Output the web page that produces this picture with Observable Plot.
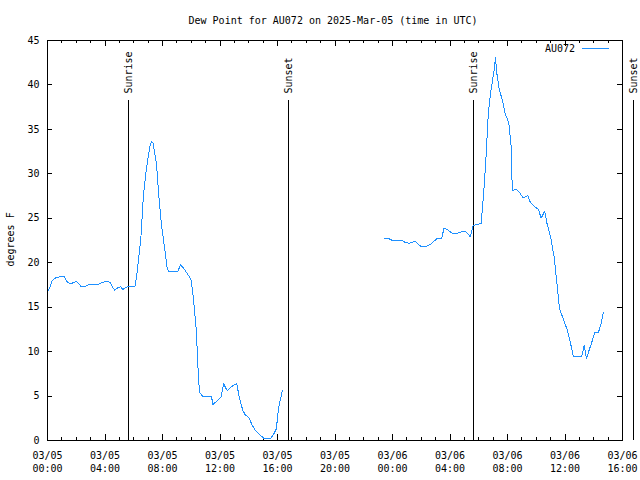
<!DOCTYPE html>
<html>
<head>
<meta charset="utf-8">
<script src="https://cdn.jsdelivr.net/npm/d3@7"></script>
<script src="https://cdn.jsdelivr.net/npm/@observablehq/plot@0.6"></script>
<style>
  html, body { margin: 0; padding: 0; background: #fff; }
  #wrap { position: relative; width: 640px; height: 480px; }
  #legend { position: absolute; top: 43px; right: 31px; font: 10px "DejaVu Sans Mono", monospace; display: flex; align-items: center; }
  #legend .swatch { display: inline-block; width: 27px; height: 0; border-top: 1px solid #1e90ff; margin-left: 7px; }
</style>
</head>
<body>
<div id="wrap"><div id="legend"><span id="legendText"></span><span class="swatch"></span></div></div>
<script>
// ---- data (UTC, 2025) ----
const times = [
  "03/05 00:05","03/05 00:20","03/05 00:35","03/05 01:05","03/05 01:10","03/05 01:20","03/05 01:35","03/05 02:00",
  "03/05 02:15","03/05 02:20","03/05 02:35","03/05 02:55","03/05 03:35","03/05 03:50","03/05 04:10","03/05 04:20",
  "03/05 04:40","03/05 04:55","03/05 05:05","03/05 05:15","03/05 05:30","03/05 05:40","03/05 06:05","03/05 06:15",
  "03/05 06:30","03/05 06:40","03/05 06:50","03/05 07:00","03/05 07:10","03/05 07:15","03/05 07:20","03/05 07:35",
  "03/05 07:45","03/05 07:55","03/05 08:10","03/05 08:20","03/05 08:25","03/05 09:05","03/05 09:15","03/05 09:30",
  "03/05 09:50","03/05 10:00","03/05 10:10","03/05 10:20","03/05 10:25","03/05 10:30","03/05 10:35","03/05 10:50",
  "03/05 11:25","03/05 11:30","03/05 11:50","03/05 12:05","03/05 12:15","03/05 12:30","03/05 12:50","03/05 13:10",
  "03/05 13:20","03/05 13:35","03/05 13:45","03/05 14:00","03/05 14:15","03/05 14:30","03/05 14:50","03/05 15:05",
  "03/05 15:30","03/05 15:45","03/05 15:55","03/05 16:05","03/05 16:20",
  "03/05 20:00",
  "03/05 23:25","03/05 23:45","03/06 00:00","03/06 00:40","03/06 00:55","03/06 01:10","03/06 01:35","03/06 02:00",
  "03/06 02:20","03/06 02:40","03/06 03:05","03/06 03:25","03/06 03:35","03/06 03:50","03/06 04:10","03/06 04:30",
  "03/06 04:50","03/06 05:05","03/06 05:25","03/06 05:35","03/06 05:50","03/06 06:10","03/06 06:20","03/06 06:30",
  "03/06 06:35","03/06 06:40","03/06 06:50","03/06 07:05","03/06 07:10","03/06 07:15","03/06 07:25","03/06 07:40",
  "03/06 07:50","03/06 08:05","03/06 08:15","03/06 08:20","03/06 08:35","03/06 08:50","03/06 09:05","03/06 09:15",
  "03/06 09:25","03/06 09:35","03/06 09:55","03/06 10:10","03/06 10:20","03/06 10:30","03/06 10:35","03/06 10:45",
  "03/06 11:00","03/06 11:15","03/06 11:25","03/06 11:35","03/06 11:40","03/06 11:50","03/06 12:10","03/06 12:25",
  "03/06 12:35","03/06 13:10","03/06 13:20","03/06 13:30","03/06 13:40","03/06 13:50","03/06 14:05","03/06 14:20",
  "03/06 14:30","03/06 14:40"
];
const dewpoint = [
  16.9, 18.0, 18.3, 18.5, 18.5, 17.9, 17.6, 17.9,
  17.5, 17.3, 17.3, 17.6, 17.6, 17.8, 17.9, 17.8,
  16.9, 17.2, 17.3, 17.0, 17.25, 17.3, 17.3, 19.1,
  22.9, 27.4, 30.0, 31.9, 33.4, 33.6, 33.5, 31.1,
  27.4, 24.4, 21.4, 19.3, 19.05, 19.05, 19.8, 19.3,
  18.5, 18.0, 15.75, 12.75, 10.1, 7.1, 5.4, 4.9,
  4.9, 4.05, 4.5, 4.9, 6.4, 5.6, 6.1, 6.4,
  4.9, 3.4, 2.9, 2.6, 1.7, 1.05, 0.56, 0.19,
  0.19, 0.75, 1.3, 3.75, 5.6,
  null,
  22.7, 22.7, 22.5, 22.5, 22.25, 22.2, 22.4, 21.8,
  21.8, 22.1, 22.7, 22.7, 23.9, 23.7, 23.3, 23.3,
  23.5, 23.55, 22.9, 24.1, 24.3, 24.4, 27.6, 31.7,
  34.3, 36.9, 39.2, 41.8, 43.1, 41.4, 39.6, 38.1,
  36.75, 35.8, 33.2, 28.1, 28.3, 27.9, 27.3, 27.4,
  27.6, 26.8, 26.25, 26.0, 25.0, 25.5, 25.8, 24.4,
  22.9, 20.6, 18.0, 15.4, 14.6, 13.9, 12.4, 10.7,
  9.45, 9.45, 10.7, 9.2, 10.1, 10.9, 12.2, 12.2,
  13.1, 14.4
];
const eventTimes = ["03/05 05:38", "03/05 16:46", "03/06 05:38", "03/06 16:47"];
const eventLabels = ["Sunrise", "Sunset", "Sunrise", "Sunset"];
const xTickLabels = ["03/05 00:00","03/05 04:00","03/05 08:00","03/05 12:00","03/05 16:00","03/05 20:00",
                     "03/06 00:00","03/06 04:00","03/06 08:00","03/06 12:00","03/06 16:00"];
const yTicks = [0, 5, 10, 15, 20, 25, 30, 35, 40, 45];
const stationName = "AU072";
const titleText = "Dew Point for AU072 on 2025-Mar-05 (time in UTC)";
const yLabelText = "degrees F";

// ---- build ----
const parseT = s => d3.utcParse("%Y/%m/%d %H:%M")("2025/" + s);
const rows = times.map((t, i) => ({t: parseT(t), v: dewpoint[i] == null ? NaN : dewpoint[i]}));
const events = eventTimes.map((t, i) => ({t: parseT(t), label: eventLabels[i]}));
const majorTicks = xTickLabels.map(parseT);
const xDomain = [majorTicks[0], majorTicks[majorTicks.length - 1]];
const minorTicks = d3.utcHour.range(xDomain[0], d3.utcHour.offset(xDomain[1], 1));

const W = 640, H = 480, mL = 47, mR = 18, mT = 40, mB = 40;
const fw = W - mL - mR, fh = H - mT - mB;
const blue = "#1e90ff";

const chart = Plot.plot({
  width: W, height: H,
  marginLeft: mL, marginRight: mR, marginTop: mT, marginBottom: mB,
  style: {fontFamily: "'DejaVu Sans Mono', monospace", fontSize: "10px", color: "black", background: "white", overflow: "visible"},
  x: {type: "utc", domain: xDomain},
  y: {domain: [0, 45]},
  marks: [
    // ticks (inward, gnuplot style)
    Plot.ruleX(minorTicks, {x: d => d, insetTop: fh - 3, stroke: "black", shapeRendering: "crispEdges"}),
    Plot.ruleX(minorTicks, {x: d => d, insetBottom: fh - 3, stroke: "black", shapeRendering: "crispEdges"}),
    Plot.ruleX(majorTicks, {x: d => d, insetTop: fh - 6, stroke: "black", shapeRendering: "crispEdges"}),
    Plot.ruleX(majorTicks, {x: d => d, insetBottom: fh - 6, stroke: "black", shapeRendering: "crispEdges"}),
    Plot.ruleY(yTicks, {y: d => d, insetRight: fw - 5, stroke: "black", shapeRendering: "crispEdges"}),
    Plot.ruleY(yTicks, {y: d => d, insetLeft: fw - 5, stroke: "black", shapeRendering: "crispEdges"}),
    Plot.axisX(majorTicks, {tickSize: 0, tickPadding: 9, tickFormat: d3.utcFormat("%m/%d\n%H:%M"), lineHeight: 1.3, label: null}),
    Plot.axisY(yTicks, {tickSize: 0, tickPadding: 8, label: null}),
    // sunrise / sunset
    Plot.ruleX(events, {x: "t", insetTop: 60, stroke: "black", shapeRendering: "crispEdges"}),
    Plot.text(events, {x: "t", text: "label", frameAnchor: "top", dy: 53, dx: -4, rotate: -90, textAnchor: "start", fill: "black"}),
    // data
    Plot.line(rows, {x: "t", y: "v", stroke: blue, strokeWidth: 1, shapeRendering: "crispEdges"}),
    Plot.frame({stroke: "black", shapeRendering: "crispEdges"}),
    // title and y label
    Plot.text([titleText], {frameAnchor: "top", dy: -24, dx: -2, fill: "black"}),
    Plot.text([yLabelText], {frameAnchor: "left", dx: -37, dy: 26, rotate: -90, fill: "black"})
  ]
});
document.getElementById("wrap").prepend(chart);
document.getElementById("legendText").textContent = stationName;
</script>
</body>
</html>
